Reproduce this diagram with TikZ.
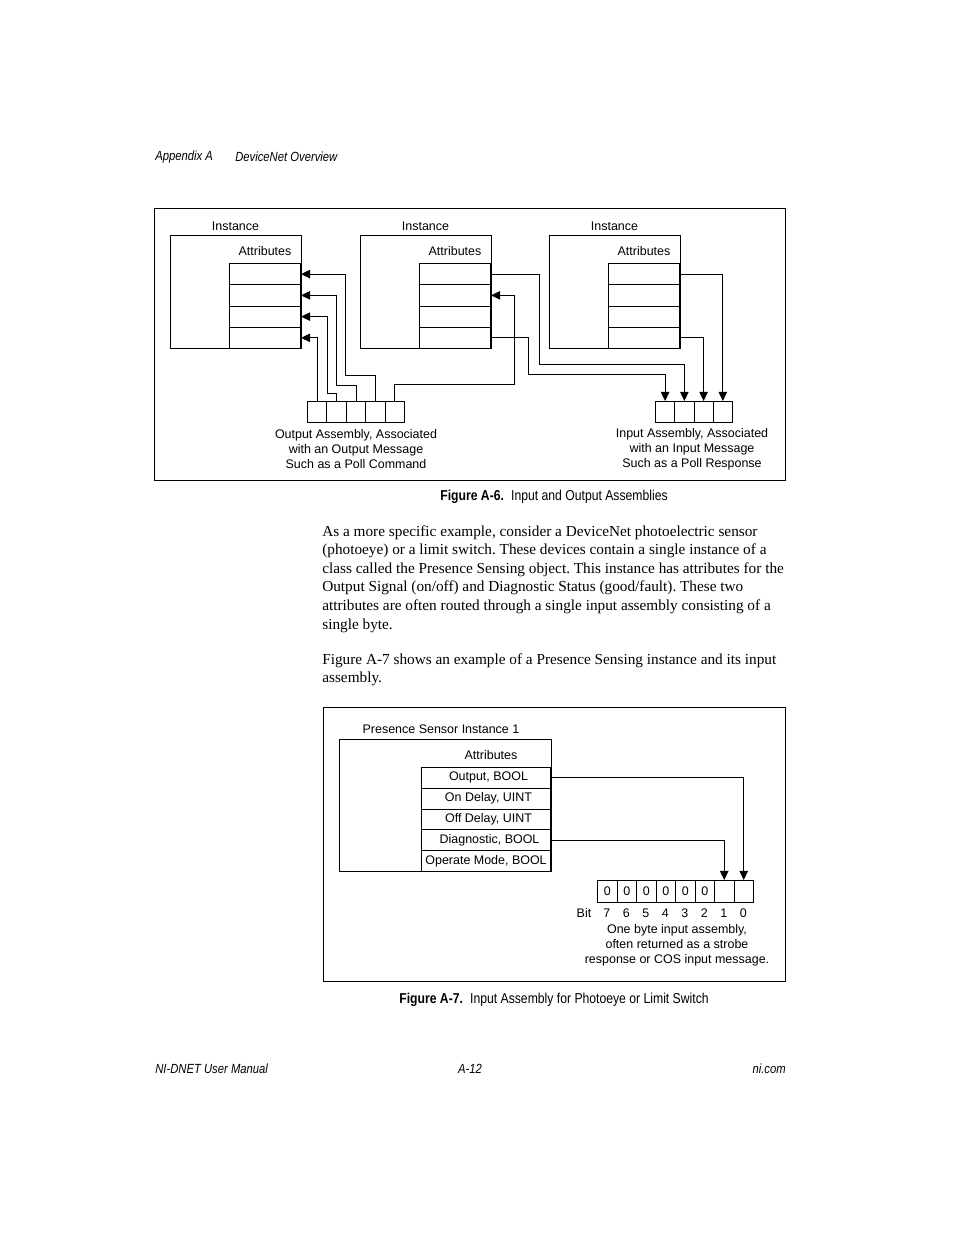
\documentclass[tikz,border=0pt]{standalone}
\usepackage{fontspec}
\setmainfont{Liberation Serif}
\setsansfont{Liberation Sans}
\newfontfamily\condfont[FakeStretch=0.85]{Liberation Sans}
\usetikzlibrary{arrows.meta}
\newdimen\px \px=0.6415pt
\frenchspacing

\begin{document}
\begin{tikzpicture}[x=0.6415pt, y=-0.6415pt,
    lbl/.style={font=\fontsize{8}{9.6}\selectfont\sffamily, inner sep=0},
    head/.style={font=\fontsize{8.5}{10}\selectfont\condfont\itshape, inner sep=0},
    capt/.style={font=\fontsize{9.2}{11}\selectfont\condfont, inner sep=0},
    body/.style={font=\fontsize{9.8}{11.95}\selectfont\rmfamily, inner sep=0, align=left, anchor=north west},
    frame/.style={draw, line width=0.6pt, inner sep=0, anchor=north west},
    inst/.style={draw, line width=0.6pt, minimum width=131\px, minimum height=113\px, inner sep=0, anchor=north west},
    row/.style={draw, line width=0.6pt, minimum width=71\px, minimum height=21.25\px, inner sep=0, anchor=north east, font=\fontsize{8}{9.6}\selectfont\sffamily},
    cell/.style={draw, line width=0.6pt, minimum height=21\px, inner sep=0, anchor=north west, font=\fontsize{8}{9.6}\selectfont\sffamily},
    flow/.style={line width=0.6pt, -{Triangle[length=5.8pt,width=5.4pt]}}]
    \useasboundingbox (0,0) rectangle (954,1235);

    % running head
    \node[head, anchor=west] (appx) at (155,157) {Appendix A};
    \node[head, anchor=west] (chap) at (235,157) {DeviceNet Overview};

    % Figure A-6: three instances and two assemblies
    \node[frame, minimum width=631\px, minimum height=272\px] (figsix) at (154,208) {};
    \foreach \n/\x in {1/170, 2/360, 3/549} {
        \node[inst] (inst\n) at (\x,235) {};
        \node[lbl] (itit\n) at ({\x+65.5},226) {Instance};
        \node[lbl] (atit\n) at ({\x+95},251) {Attributes};
        \foreach \r in {1,...,4}
            \node[row] (r\n\r) at ({\x+131},{263+21.25*(\r-1)}) {};
    }
    \foreach \i in {1,...,5}
        \node[cell, minimum width=19.4\px] (o\i) at ({307+19.4*(\i-1)},401) {};
    \foreach \i in {1,...,4}
        \node[cell, minimum width=19.25\px] (in\i) at ({655+19.25*(\i-1)},401) {};

    % output assembly -> attributes
    \draw[flow] (o1.north) |- (r14.east);
    \draw[flow] (o2.north) |- (327,393) |- (r13.east);
    \draw[flow] (o3.north) |- (336,385) |- (r12.east);
    \draw[flow] (o4.north) |- (345,375) |- (r11.east);
    \draw[flow] (o5.north) |- (514,384) |- (r22.east);
    % attributes -> input assembly
    \draw[flow] (r24.east) -| (528,374) -| (in1.north);
    \draw[flow] (r21.east) -| (539,364) -| (in2.north);
    \draw[flow] (r34.east) -| (in3.north);
    \draw[flow] (r31.east) -| (in4.north);

    \node[lbl, align=center] (olbl) at (356,449) {Output Assembly, Associated\\with an Output Message\\Such as a Poll Command};
    \node[lbl, align=center] (ilbl) at (692,449) {Input Assembly, Associated\\with an Input Message\\Such as a Poll Response};
    \node[capt] (capsix) at (554,497) {\textbf{Figure A-6.}\enspace Input and Output Assemblies};

    % body text
    \node[body] (para1) at (322,525) {As a more specific example, consider a DeviceNet photoelectric sensor\\
        (photoeye) or a limit switch. These devices contain a single instance of a\\
        class called the Presence Sensing object. This instance has attributes for the\\
        Output Signal (on/off) and Diagnostic Status (good/fault). These two\\
        attributes are often routed through a single input assembly consisting of a\\
        single byte.};
    \node[body] (para2) at (322,653) {Figure A-7 shows an example of a Presence Sensing instance and its input\\
        assembly.};

    % Figure A-7: presence sensor and its one byte assembly
    \node[frame, minimum width=462\px, minimum height=274\px] (figseven) at (323,707) {};
    \node[lbl] (pstit) at (441,729) {Presence Sensor Instance 1};
    \node[inst, minimum width=212\px, minimum height=132\px] (psi) at (339,739) {};
    \node[lbl] (patit) at (491,755) {Attributes};
    \foreach \r/\t in {1/{\hspace*{5\px}Output, BOOL}, 2/{\hspace*{5\px}On Delay, UINT}, 3/{\hspace*{5\px}Off Delay, UINT}, 4/{\hspace*{7\px}Diagnostic, BOOL}, 5/{Operate Mode, BOOL}}
        \node[row, minimum width=129\px, minimum height=20.8\px] (p\r) at (551,{767+20.8*(\r-1)}) {\t};
    \foreach \i/\v in {1/0, 2/0, 3/0, 4/0, 5/0, 6/0, 7/{}, 8/{}}
        \node[cell, minimum width=19.5\px, minimum height=22\px] (b\i) at ({597+19.5*(\i-1)},880) {\v};
    \node[lbl] (bittit) at (584,913) {Bit};
    \foreach \i/\k in {1/7, 2/6, 3/5, 4/4, 5/3, 6/2, 7/1, 8/0}
        \node[lbl] (bit\i) at ({606.75+19.5*(\i-1)},913) {\k};
    \draw[flow] (p1.east) -| (b8.north);
    \draw[flow] (p4.east) -| (b7.north);
    \node[lbl, align=center] (blbl) at (677,945) {One byte input assembly,\\often returned as a strobe\\response or COS input message.};
    \node[capt] (capseven) at (554,1000) {\textbf{Figure A-7.}\enspace Input Assembly for Photoeye or Limit Switch};

    % running foot
    \node[head, anchor=west] (manual) at (155,1069) {NI-DNET User Manual};
    \node[head] (pageno) at (470,1069) {A-12};
    \node[head, anchor=east] (site) at (786,1069) {ni.com};
\end{tikzpicture}
\end{document}
